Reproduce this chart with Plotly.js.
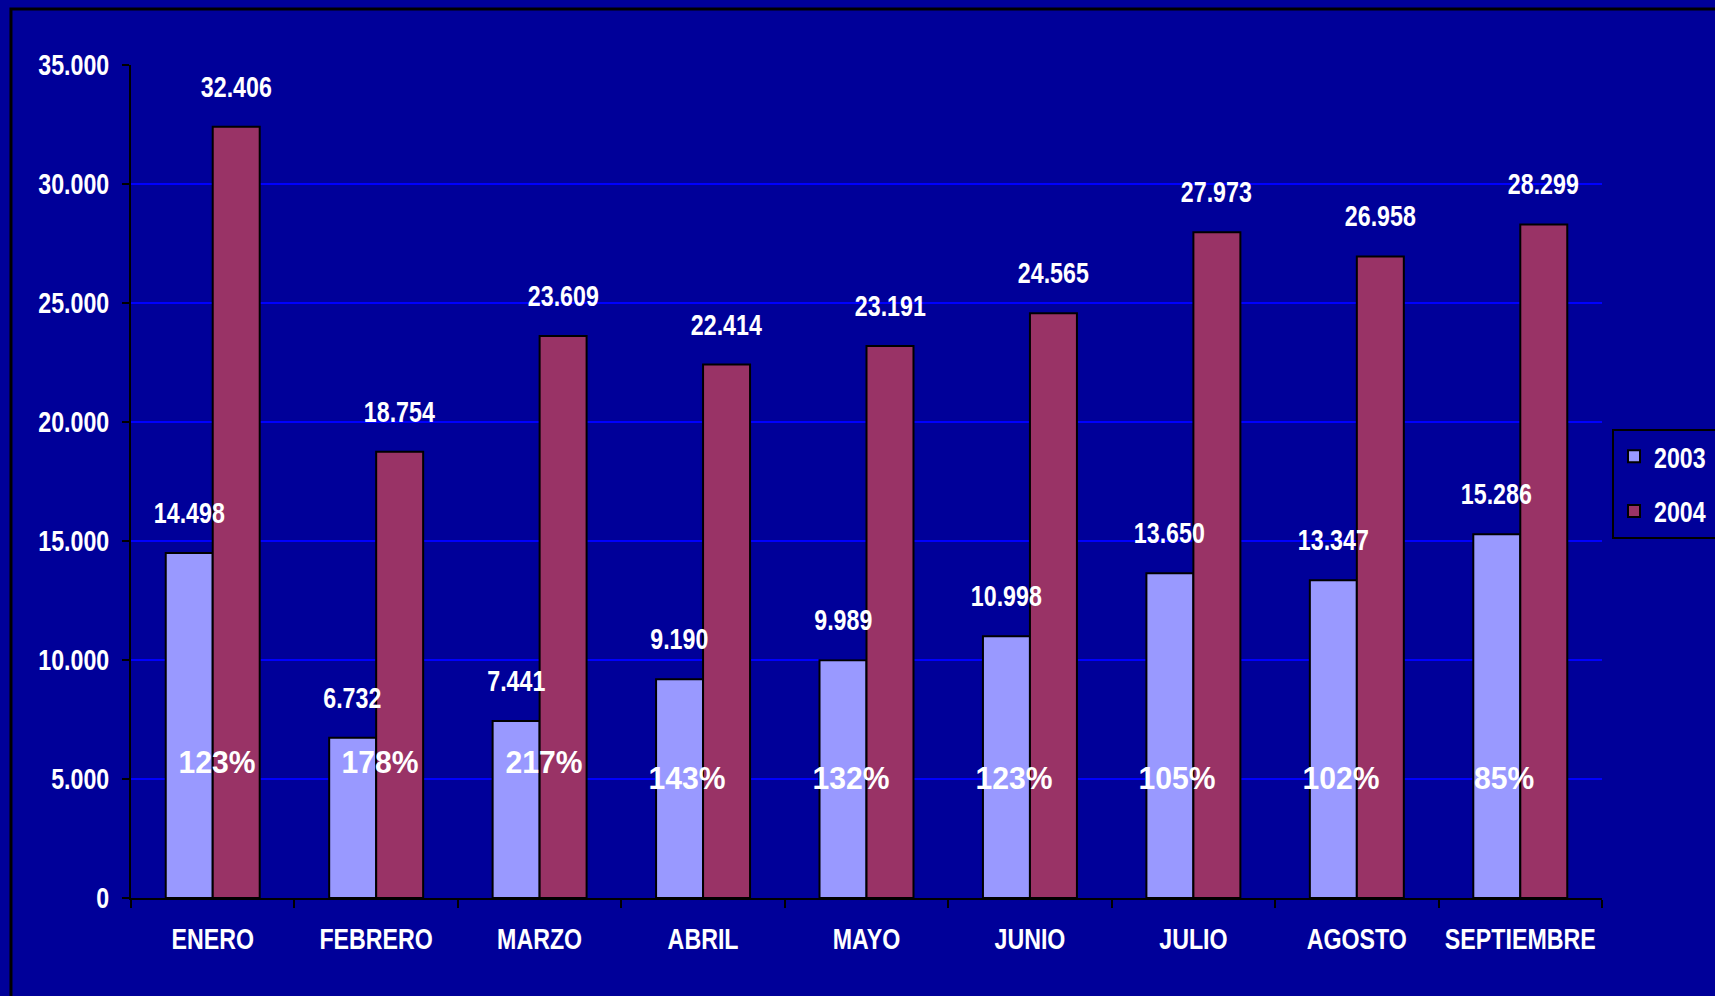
<!DOCTYPE html>
<html>
<head>
<meta charset="utf-8">
<script src="https://cdn.plot.ly/plotly-3.0.1.min.js"></script>
<style>
  html, body { margin: 0; padding: 0; background: #000099; }
  #chart { width: 1715px; height: 996px; }
</style>
</head>
<body>
<div id="chart"></div>
<script>
const months = ["ENERO", "FEBRERO", "MARZO", "ABRIL", "MAYO", "JUNIO", "JULIO", "AGOSTO", "SEPTIEMBRE"];
const values2003 = [14498, 6732, 7441, 9190, 9989, 10998, 13650, 13347, 15286];
const values2004 = [32406, 18754, 23609, 22414, 23191, 24565, 27973, 26958, 28299];
const growthLabels = ["123%", "178%", "217%", "143%", "132%", "123%", "105%", "102%", "85%"];
const seriesNames = ["2003", "2004"];

const FONT = '"Liberation Sans", Arial, sans-serif';
const NARROW = 0.8;      // horizontal compression of the narrow bold lettering
const NARROW_PCT = 0.94; // slighter compression for the percentage labels

function fmt(v) {
  return String(v).replace(/\B(?=(\d{3})+(?!\d))/g, '.');
}

const traces = [
  {
    type: 'bar', name: seriesNames[0], x: months, y: values2003,
    marker: { color: '#9999FF', line: { color: '#000000', width: 2 } },
    legendgroup: 'a', hoverinfo: 'skip'
  },
  {
    type: 'bar', name: seriesNames[1], x: months, y: values2004,
    marker: { color: '#993366', line: { color: '#000000', width: 2 } },
    legendgroup: 'b', hoverinfo: 'skip'
  }
];

const annotations = [];
const half = 23.5;
months.forEach((m, i) => {
  annotations.push({
    x: m, y: values2003[i], xref: 'x', yref: 'y', text: fmt(values2003[i]),
    showarrow: false, xshift: -half, yshift: 40, yanchor: 'middle',
    font: { family: FONT, size: 29, color: '#FFFFFF', weight: 700 }
  });
  annotations.push({
    x: m, y: values2004[i], xref: 'x', yref: 'y', text: fmt(values2004[i]),
    showarrow: false, xshift: half, yshift: 40, yanchor: 'middle',
    font: { family: FONT, size: 29, color: '#FFFFFF', weight: 700 }
  });
  annotations.push({
    x: m, y: i < 3 ? 5714 : 5042, xref: 'x', yref: 'y', text: growthLabels[i],
    showarrow: false, xshift: i < 3 ? 4 : -16, yanchor: 'middle',
    font: { family: FONT, size: 32, color: '#FFFFFF', weight: 700 }
  });
});

const layout = {
  width: 1715, height: 996,
  margin: { l: 131, r: 113, t: 65, b: 98, pad: 0, autoexpand: false },
  paper_bgcolor: '#000099', plot_bgcolor: '#000099',
  separators: ',.',
  barmode: 'group', bargap: 0.425, bargroupgap: 0,
  showlegend: true,
  legend: {
    xref: 'container', yref: 'container',
    x: 1612 / 1715, xanchor: 'left', y: 1 - 429 / 996, yanchor: 'top',
    bgcolor: 'rgba(0,0,0,0)', bordercolor: '#000000', borderwidth: 2,
    font: { family: FONT, size: 29, color: '#FFFFFF', weight: 700 },
    tracegroupgap: 14, itemwidth: 30
  },
  xaxis: {
    type: 'category', showline: true, linecolor: '#000000', linewidth: 2,
    ticks: 'outside', tickson: 'boundaries', ticklen: 8, tickwidth: 2, tickcolor: '#000000',
    showgrid: false, zeroline: false, ticklabelstandoff: 14, tickangle: 0,
    tickfont: { family: FONT, size: 29, color: '#FFFFFF', weight: 700 },
    automargin: false, fixedrange: true
  },
  yaxis: {
    range: [0, 35000], dtick: 5000, tick0: 0, tickformat: ',d',
    showline: true, linecolor: '#000000', linewidth: 2,
    ticks: 'outside', ticklen: 7, tickwidth: 2, tickcolor: '#000000',
    showgrid: true, gridcolor: '#0000FF', gridwidth: 2, zeroline: false,
    ticklabelstandoff: 7,
    tickfont: { family: FONT, size: 29, color: '#FFFFFF', weight: 700 },
    automargin: false, fixedrange: true
  },
  annotations: annotations,
  shapes: [{
    type: 'rect', xref: 'paper', yref: 'paper',
    x0: -0.0816, x1: 1.2, y0: -0.3, y1: 1.0672,
    line: { color: '#000000', width: 3 }, fillcolor: 'rgba(0,0,0,0)', layer: 'below'
  }]
};

function condense(gd) {
  const sel = gd.querySelectorAll('g.xtick text, g.ytick text, g.annotation-text-g text, text.legendtext');
  sel.forEach(t => {
    const s = t.textContent || '';
    const k = s.endsWith('%') ? NARROW_PCT : NARROW;
    const len = t.getComputedTextLength();
    if (len > 0) {
      t.setAttribute('textLength', (len * k).toFixed(2));
      t.setAttribute('lengthAdjust', 'spacingAndGlyphs');
    }
  });
}

Plotly.newPlot('chart', traces, layout, { displayModeBar: false, staticPlot: true })
  .then(gd => condense(gd));
</script>
</body>
</html>
